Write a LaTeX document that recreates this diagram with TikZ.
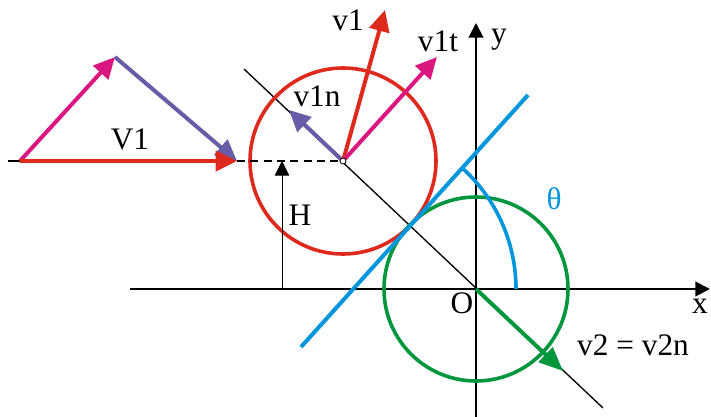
\documentclass[tikz,border=0pt]{standalone}
\usepackage{fontspec}
\setmainfont{Liberation Serif}
\usetikzlibrary{arrows.meta}
\definecolor{red}{RGB}{222,42,28}
\definecolor{pink}{RGB}{220,22,128}
\definecolor{purple}{RGB}{104,92,168}
\definecolor{blue}{RGB}{0,150,222}
\definecolor{green}{RGB}{0,150,62}

\begin{document}
\begin{tikzpicture}[x=0.75pt,y=0.75pt,yscale=-1,xscale=1,
  vec/.style={line width=3pt,-{Triangle[length=16pt,width=15pt]}},
  axis/.style={line width=1.5pt,-{Triangle[length=11pt,width=11pt]}},
  lbl/.style={inner sep=0.75pt,font=\fontsize{23.5}{27}\selectfont}]
\useasboundingbox (0,0) rectangle (711,417);

% points
\coordinate (O) at (476,289);
\coordinate (C1) at (343,161);
\coordinate (xs) at (130,289);
\coordinate (xe) at (710,289);
\coordinate (ys) at (476,417);
\coordinate (ye) at (476,23);
\coordinate (Ls) at (244,69);
\coordinate (Le) at (603,408);
\coordinate (Ts) at (301,347);
\coordinate (Te) at (528,95);
\coordinate (A) at (20,161);
\coordinate (B) at (115,57);
\coordinate (D) at (237,161);
\coordinate (Hb) at (282,289);
\coordinate (Ht) at (282,161);
\coordinate (v1e) at (385,10);
\coordinate (v1te) at (437,57);
\coordinate (v1ne) at (289,110);
\coordinate (v2e) at (563,371);
\coordinate (Tx) at (516,289);

% axes
\draw[axis] (xs) -- (xe);
\draw[axis] (ys) -- (ye);
% line of centres
\draw[line width=1pt] (Ls) -- (Le);
% circles
\draw[red,line width=2.7pt] (C1) circle[radius=93];
\draw[green,line width=2.7pt] (O) circle[radius=92];
% tangent line and angle
\draw[blue,line width=3pt] (Ts) -- (Te);
\draw[blue,line width=2.7pt] (Tx) arc[start angle=0,end angle=-48,radius=163];
% V1 triangle
\draw[line width=1.2pt] (8,161) -- (A);
\draw[line width=1.2pt,dashed,dash pattern=on 6pt off 4pt] (D) -- (C1);
\draw[vec,pink] (A) -- (B);
\draw[vec,purple] (B) -- (D);
\draw[vec,red] (A) -- (D);
% height
\draw[line width=0.7pt,-{Triangle[length=11pt,width=11pt]}] (Hb) -- (Ht);
% velocities
\draw[vec,purple] (C1) -- (v1ne);
\draw[vec,red] (C1) -- (v1e);
\draw[vec,pink] (C1) -- (v1te);
\draw[green,line width=3pt,-{Triangle[length=18pt,width=15pt]}] (O) -- (v2e);
\draw[fill=white,line width=0.6pt] (C1) circle[radius=3];

% Text Node
\node[lbl] (lV1) at (130,139) {V1};
\node[lbl] (lv1) at (348,20) {v1};
\node[lbl] (lv1t) at (438,41) {v1t};
\node[lbl] (lv1n) at (317,96) {v1n};
\node[lbl] (lH) at (300,215) {H};
\node[lbl] (ly) at (499,40) {y};
\node[lbl] (lx) at (700,306) {x};
\node[lbl] (lO) at (462,303) {O};
\node[lbl,blue] (lth) at (554,199) {θ};
\node[lbl] (lv2) at (633,345) {v2 = v2n};
\end{tikzpicture}
\end{document}
